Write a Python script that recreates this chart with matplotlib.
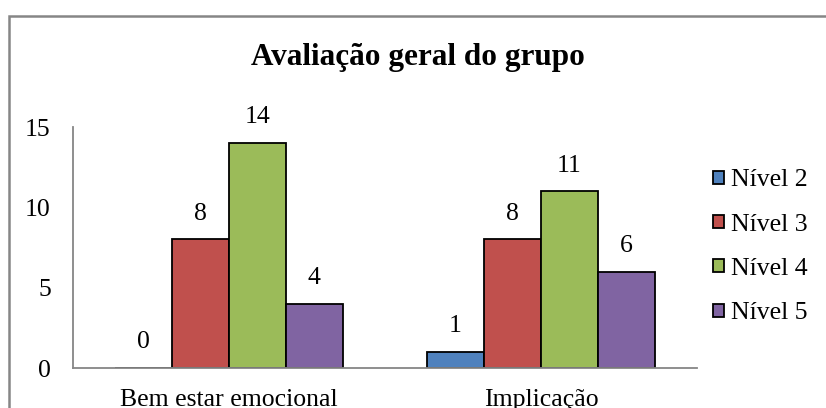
import matplotlib.pyplot as plt
from matplotlib.patches import Rectangle
import numpy as np

plt.rcParams['font.family'] = ['Liberation Serif', 'DejaVu Serif']

# ========= data =========
categories = ['Bem estar emocional', 'Implicação']
series = ['Nível 2', 'Nível 3', 'Nível 4', 'Nível 5']
values = {
    'Nível 2': [0, 1],
    'Nível 3': [8, 8],
    'Nível 4': [14, 11],
    'Nível 5': [4, 6],
}
colors = ['#4F81BD', '#C0504D', '#9BBB59', '#8064A2']
yticks = [0, 5, 10, 15]

# ========= plot =========
fig = plt.figure(figsize=(8.26, 4.08), dpi=100)
ax = fig.add_axes([0.0884, 0.098, 0.7554, 0.5907])

x = np.arange(len(categories))
w = 0.73 / len(series)
for i, (name, c) in enumerate(zip(series, colors)):
    pos = x + (i - 1.5) * w
    bars = ax.bar(pos, values[name], width=w, color=c, edgecolor='black',
                  linewidth=1.3, label=name)
    for b, v in zip(bars, values[name]):
        ax.annotate(str(v), (b.get_x() + b.get_width() / 2, v),
                    xytext=(0, 10.5), textcoords='offset points',
                    ha='center', va='bottom', fontsize=18.5)

ax.set_xlim(-0.5, 1.5)
ax.set_ylim(0, 15)
ax.set_yticks(yticks)
ax.set_xticks(x)
ax.set_xticklabels(categories)
ax.tick_params(length=0, labelsize=18.5)
ax.tick_params(axis='y', pad=16)
ax.tick_params(axis='x', pad=15)
for s in ['top', 'right']:
    ax.spines[s].set_visible(False)
for s in ['left', 'bottom']:
    ax.spines[s].set_color('#868686')
    ax.spines[s].set_linewidth(1.3)

fig.text(0.506, 0.858, 'Avaliação geral do grupo', ha='center', va='center',
         fontsize=22.5, fontweight='bold')

leg = ax.legend(loc='center left', bbox_to_anchor=(0.848, 0.395),
                bbox_transform=fig.transFigure, frameon=False, fontsize=18.5,
                handlelength=0.4, handleheight=0.4, handletextpad=0.3,
                labelspacing=0.87, borderpad=0)
for h in leg.legend_handles:
    h.set_linewidth(1.3)

# outer chart border (right and bottom edges lie outside the picture)
fig.patches.append(Rectangle((0.0109, -0.2), 1.1, 1.161, transform=fig.transFigure,
                             fill=False, edgecolor='#868686', linewidth=1.8))

fig.savefig('out.png', dpi=100)
